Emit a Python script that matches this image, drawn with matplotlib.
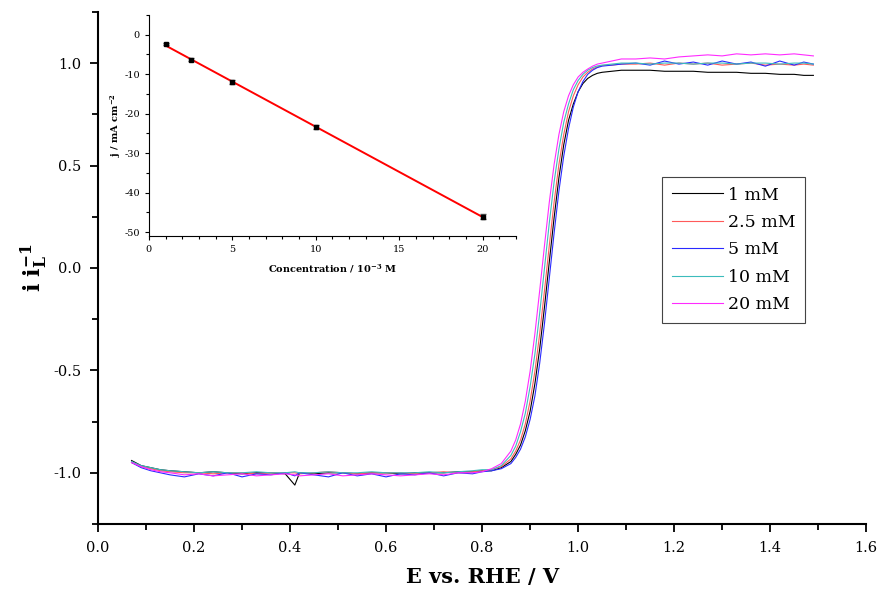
import matplotlib
matplotlib.use('Agg')
import matplotlib.pyplot as plt
from matplotlib.ticker import MultipleLocator, FormatStrFormatter
import numpy as np

plt.rcParams['font.family'] = ['DejaVu Serif']
plt.rcParams['mathtext.fontset'] = 'dejavuserif'
plt.rcParams['axes.unicode_minus'] = False

# potential grid (V vs RHE)
E = [0.07, 0.09, 0.11, 0.13, 0.15, 0.18, 0.21, 0.24, 0.27, 0.30, 0.33, 0.36, 0.39, 0.41,
     0.42, 0.45, 0.48, 0.51, 0.54, 0.57, 0.60, 0.63, 0.66, 0.69, 0.72, 0.75, 0.78, 0.80,
     0.82, 0.84, 0.86, 0.87, 0.88, 0.89, 0.90, 0.91, 0.92, 0.93, 0.94, 0.95, 0.96, 0.97,
     0.98, 0.99, 1.00, 1.01, 1.02, 1.03, 1.04, 1.05, 1.07, 1.09,
     1.12, 1.15, 1.18, 1.21, 1.24, 1.27, 1.30, 1.33, 1.36, 1.39, 1.42, 1.45, 1.47, 1.49]

# normalised current i/iL for each concentration
i_1mM = [-0.94, -0.965, -0.975, -0.985, -0.99, -0.995, -1.0, -0.995, -1.0, -1.005, -1.0, -1.0, -1.005, -1.06,
         -1.0, -1.005, -1.0, -1.0, -1.005, -1.0, -1.0, -1.005, -1.0, -1.0, -1.0, -0.995, -0.995, -0.99,
         -0.99, -0.975, -0.945, -0.91, -0.865, -0.795, -0.70, -0.565, -0.395, -0.19, 0.03, 0.245, 0.44, 0.60,
         0.72, 0.80, 0.86, 0.90, 0.925, 0.94, 0.95, 0.955, 0.96, 0.965,
         0.965, 0.965, 0.96, 0.96, 0.96, 0.955, 0.955, 0.955, 0.95, 0.95, 0.945, 0.945, 0.94, 0.94]
i_2_5mM = [-0.95, -0.97, -0.98, -0.99, -0.995, -1.0, -1.0, -1.005, -1.0, -1.0, -1.005, -1.0, -1.0, -1.0,
           -1.005, -1.0, -0.995, -1.0, -1.005, -1.0, -1.0, -1.0, -1.005, -1.0, -0.995, -1.0, -0.995, -0.99,
           -0.985, -0.97, -0.932, -0.894, -0.84, -0.762, -0.65, -0.505, -0.321, -0.11, 0.11, 0.321, 0.505, 0.65,
           0.762, 0.84, 0.894, 0.932, 0.955, 0.971, 0.981, 0.988, 0.99, 0.995,
           0.995, 1.0, 0.99, 1.0, 0.995, 1.0, 0.99, 0.995, 1.0, 0.99, 0.995, 0.99, 0.995, 0.99]
i_5mM = [-0.95, -0.975, -0.99, -1.0, -1.01, -1.02, -1.005, -1.015, -1.0, -1.02, -1.005, -1.01, -1.0, -1.015,
         -1.0, -1.01, -1.02, -1.0, -1.015, -1.005, -1.02, -1.005, -1.01, -1.0, -1.015, -1.0, -1.005, -0.995,
         -0.99, -0.98, -0.955, -0.925, -0.885, -0.825, -0.74, -0.625, -0.465, -0.27, -0.05, 0.17, 0.375, 0.545,
         0.68, 0.785, 0.86, 0.91, 0.945, 0.965, 0.978, 0.985, 0.99, 0.995,
         1.0, 0.99, 1.01, 0.995, 1.005, 0.99, 1.01, 0.995, 1.005, 0.985, 1.01, 0.99, 1.005, 0.995]
i_10mM = [-0.945, -0.965, -0.975, -0.985, -0.99, -0.995, -1.0, -0.995, -1.0, -1.0, -0.995, -1.0, -1.0, -0.995,
          -1.0, -1.0, -0.995, -1.0, -1.0, -0.995, -1.0, -1.0, -1.0, -0.995, -1.0, -0.995, -0.99, -0.985,
          -0.985, -0.965, -0.915, -0.87, -0.80, -0.71, -0.58, -0.42, -0.22, 0.0, 0.22, 0.42, 0.58, 0.71,
          0.80, 0.87, 0.915, 0.945, 0.965, 0.978, 0.986, 0.99, 0.995, 1.0,
          1.0, 0.995, 1.0, 1.0, 0.995, 1.0, 1.0, 0.995, 1.0, 1.0, 0.995, 1.0, 1.0, 0.995]
i_20mM = [-0.95, -0.97, -0.985, -0.995, -1.0, -1.01, -1.005, -1.015, -1.01, -1.005, -1.015, -1.01, -1.005, -1.01,
          -1.015, -1.01, -1.005, -1.015, -1.01, -1.005, -1.01, -1.015, -1.01, -1.005, -1.01, -1.0, -1.0, -0.995,
          -0.98, -0.955, -0.894, -0.84, -0.762, -0.651, -0.505, -0.321, -0.11, 0.11, 0.321, 0.505, 0.651, 0.762,
          0.84, 0.894, 0.932, 0.955, 0.971, 0.985, 0.995, 1.0, 1.01, 1.02,
          1.02, 1.025, 1.02, 1.03, 1.035, 1.04, 1.035, 1.045, 1.04, 1.045, 1.04, 1.045, 1.04, 1.035]

labels = ['1 mM', '2.5 mM', '5 mM', '10 mM', '20 mM']
colors = ['#000000', '#ff5a5a', '#2a2aff', '#3cbcbc', '#ff2bff']

# limiting current density vs concentration
conc = [1, 2.5, 5, 10, 20]
j_lim = [-2.4, -6.3, -12.1, -23.4, -46.1]
j_err = [0.3, 0.3, 0.5, 0.5, 0.7]

fig = plt.figure(figsize=(8.81, 5.99), dpi=100)
ax = fig.add_axes([0.1112, 0.1252, 0.872, 0.855])

for y, lab, c in zip([i_1mM, i_2_5mM, i_5mM, i_10mM, i_20mM], labels, colors):
    ax.plot(E, y, color=c, lw=0.8, label=lab)

ax.set_xlim(0, 1.6)
ax.set_ylim(-1.25, 1.25)
ax.xaxis.set_major_locator(MultipleLocator(0.2))
ax.xaxis.set_minor_locator(MultipleLocator(0.1))
ax.yaxis.set_major_locator(MultipleLocator(0.5))
ax.yaxis.set_minor_locator(MultipleLocator(0.25))
ax.yaxis.set_major_formatter(FormatStrFormatter('%.1f'))
ax.xaxis.set_major_formatter(FormatStrFormatter('%.1f'))
for s in ['top', 'right']:
    ax.spines[s].set_visible(False)
for s in ['left', 'bottom']:
    ax.spines[s].set_linewidth(1.5)
ax.tick_params(which='major', direction='out', length=6, width=1.3, labelsize=10.5, pad=6)
ax.tick_params(which='minor', direction='out', length=4, width=1.3)
ax.set_xlabel('E vs. RHE / V', fontsize=15, fontweight='bold', labelpad=9)
ax.set_ylabel(r'$\mathbf{i\ i_L^{-1}}$', fontsize=16, labelpad=2)

leg = ax.legend(loc='upper left', bbox_to_anchor=(662 / 881, 1 - 177 / 599),
                bbox_transform=fig.transFigure, borderaxespad=0, fontsize=12.5,
                fancybox=False, framealpha=1, edgecolor='#444444', handlelength=2.95,
                labelspacing=0.6, borderpad=0.55, handletextpad=0.3)
leg.get_frame().set_linewidth(0.8)

# inset: linear dependence of limiting current on concentration
ins = fig.add_axes([0.169, 0.606, 0.4167, 0.369])
ins.errorbar(conc, j_lim, yerr=j_err, fmt='s', ms=2.5, color='black',
             ecolor='#555555', elinewidth=0.8, capsize=2, zorder=3)
k, b = np.polyfit(conc, j_lim, 1)
cfit = np.array([conc[0], conc[-1]])
ins.plot(cfit, k * cfit + b, color='red', lw=1.4, zorder=2)
ins.set_xlim(0, 22)
ins.set_ylim(-51, 5)
ins.xaxis.set_major_locator(MultipleLocator(5))
ins.xaxis.set_minor_locator(MultipleLocator(1))
ins.yaxis.set_major_locator(MultipleLocator(10))
ins.yaxis.set_minor_locator(MultipleLocator(5))
for s in ['top', 'right']:
    ins.spines[s].set_visible(False)
for s in ['left', 'bottom']:
    ins.spines[s].set_linewidth(0.8)
ins.tick_params(which='major', direction='out', length=3, width=0.8, labelsize=7)
ins.tick_params(which='minor', direction='out', length=2, width=0.8)
ins.set_xlabel(r'Concentration / 10$^{\mathbf{-3}}$ M', fontsize=7, fontweight='bold', labelpad=6)
ins.set_ylabel(r'j / mA cm$^{\mathbf{-2}}$', fontsize=7, fontweight='bold', labelpad=1)

fig.savefig('out.png', dpi=100)
